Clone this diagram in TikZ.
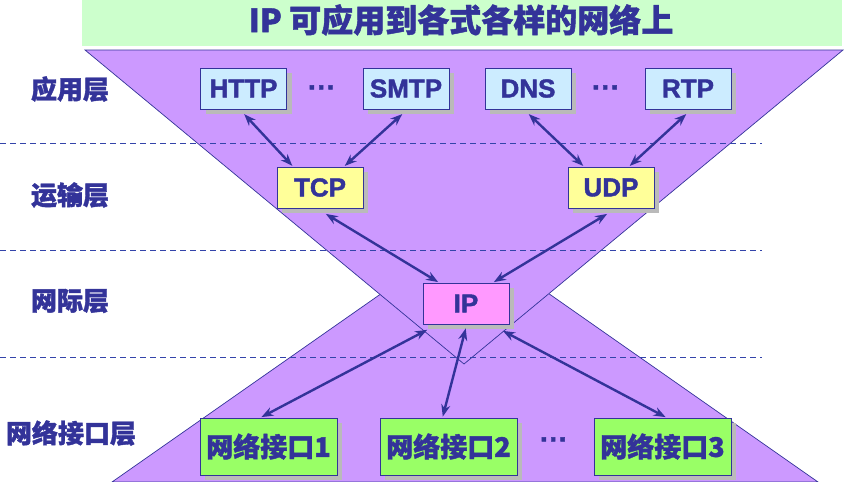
\documentclass[tikz,border=0pt]{standalone}
\usepackage{fontspec}
\setmainfont{Liberation Sans}[BoldFeatures={FakeBold=1.6}]
\newfontfamily\cjk{Noto Sans CJK SC}[BoldFeatures={FakeBold=1.4}]
\usetikzlibrary{arrows.meta,shadows,calc}
\definecolor{ink}{HTML}{333399}
\definecolor{banner}{HTML}{CCFFCC}
\definecolor{lilac}{HTML}{CC99FF}
\definecolor{appfill}{HTML}{CCECFF}
\definecolor{tpfill}{HTML}{FFFF99}
\definecolor{ipfill}{HTML}{FF99FF}
\definecolor{iffill}{HTML}{99FF66}
\definecolor{dashblue}{HTML}{3344AA}
\begin{document}
\begin{tikzpicture}[x=1pt,y=-1pt,
  box/.style={draw=ink, line width=0.8pt, text=ink,
    font=\bfseries\fontsize{26}{26}\selectfont,
    minimum width=86pt, minimum height=41pt, inner sep=0pt,
    drop shadow={shadow xshift=5pt, shadow yshift=-5pt, fill=black!27, opacity=1}},
  appbox/.style={box, fill=appfill},
  tpbox/.style={box, fill=tpfill},
  ipbox/.style={box, fill=ipfill},
  ifbox/.style={box, fill=iffill, minimum width=137pt, minimum height=57pt,
    font=\cjk\bfseries\fontsize{27}{27}\selectfont},
  layer/.style={text=ink, font=\cjk\bfseries\fontsize{26}{26}\selectfont},
  dots/.style={text=ink, font=\bfseries\fontsize{28}{28}\selectfont},
  sep/.style={draw=dashblue, line width=1pt, dash pattern=on 6pt off 4pt},
  link/.style={draw=ink, line width=2.4pt,
    {Stealth[length=12pt,width=9pt]}-{Stealth[length=12pt,width=9pt]},
    shorten <=1pt, shorten >=1pt}
]
\useasboundingbox (0,0) rectangle (852,482);

% title banner
\fill[banner] (82,0) rectangle (842,46);
\node[text=ink, font=\cjk\bfseries\fontsize{32}{32}\selectfont] (title) at (461,20)
  {IP 可应用到各式各样的网络上};

% hourglass: upright triangle below, inverted triangle above
\filldraw[fill=lilac, draw=ink, line width=0.7pt]
  (465,235) -- (818,482) -- (112,482) -- cycle;
\filldraw[fill=lilac, draw=ink, line width=0.7pt]
  (85,50) -- (843,50) -- (464,364) -- cycle;

% layer separators
\draw[sep] (0,143) -- (762,143);
\draw[sep] (0,250) -- (762,250);
\draw[sep] (0,357) -- (762,357);

% layer names
\node[layer] (lapp) at (70,89) {应用层};
\node[layer] (ltra) at (70,195) {运输层};
\node[layer] (lnet) at (70,301) {网际层};
\node[layer] (lif)  at (71,433) {网络接口层};

% protocol boxes
\node[appbox] (http) at (243.5,88.5) {HTTP};
\node[appbox] (smtp) at (406,88.5) {SMTP};
\node[appbox] (dns)  at (528,88.5) {DNS};
\node[appbox] (rtp)  at (688,88.5) {RTP};
\node[dots] (d1) at (322,91) {···};
\node[dots] (d2) at (606,91) {···};

\node[tpbox] (tcp) at (320,187.5) {TCP};
\node[tpbox] (udp) at (611,187.5) {UDP};

\node[ipbox] (ip) at (466,303.5) {IP};

\node[ifbox] (if1) at (268.5,446.5) {网络接口1};
\node[ifbox] (if2) at (448.5,446.5) {网络接口2};
\node[ifbox] (if3) at (662.5,446.5) {网络接口3};
\node[dots] (d3) at (554,443) {···};

% connectors
\draw[link] ([yshift=-4pt]http.south) -- ([xshift=-27pt]tcp.north);
\draw[link] ([xshift=-3pt,yshift=-4pt]smtp.south) -- ([xshift=24pt]tcp.north);
\draw[link] ([yshift=-4pt]dns.south) -- ([xshift=-27pt]udp.north);
\draw[link] ([xshift=-1pt,yshift=-4pt]rtp.south) -- ([xshift=18pt]udp.north);
\draw[link] ([xshift=5pt,yshift=-5pt]tcp.south) -- ([xshift=-27pt]ip.north);
\draw[link] ([xshift=-3pt,yshift=-5pt]udp.south) -- ([xshift=27pt]ip.north);
\draw[link] ([xshift=-38pt,yshift=-5pt]ip.south) -- ([xshift=-8pt]if1.north);
\draw[link] ([yshift=-3pt]ip.south) -- ([xshift=-6pt]if2.north);
\draw[link] ([xshift=36pt,yshift=-6pt]ip.south) -- ([xshift=4pt]if3.north);
\end{tikzpicture}
\end{document}
